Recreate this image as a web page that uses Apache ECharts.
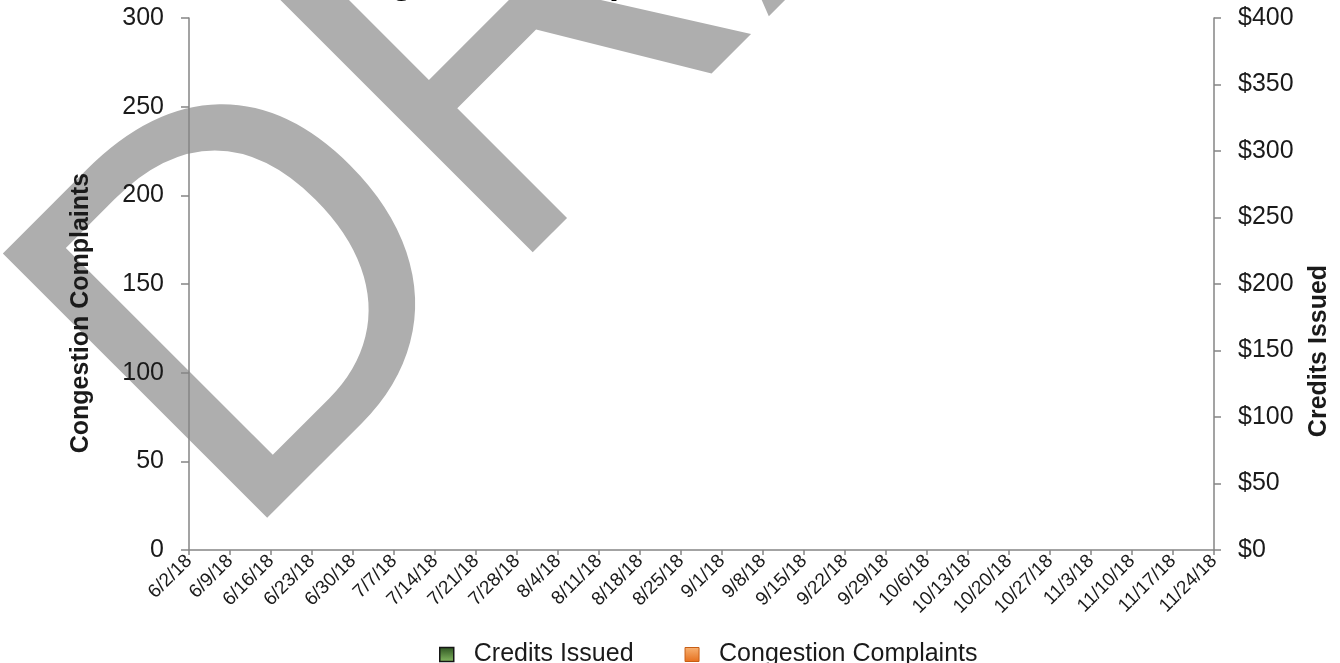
<!DOCTYPE html>
<html>
<head>
<meta charset="utf-8">
<title>Congestion Complaints &amp; Credits Issued</title>
<script src="https://cdn.jsdelivr.net/npm/echarts@6/dist/echarts.min.js"></script>
<style>
  html, body { margin: 0; padding: 0; background: #ffffff; }
  #chart { width: 1340px; height: 663px; }
</style>
</head>
<body>
<div id="chart"></div>
<script>
// Week-ending dates along the category axis
const weeks = ['6/2/18', '6/9/18', '6/16/18', '6/23/18', '6/30/18', '7/7/18', '7/14/18',
  '7/21/18', '7/28/18', '8/4/18', '8/11/18', '8/18/18', '8/25/18', '9/1/18', '9/8/18',
  '9/15/18', '9/22/18', '9/29/18', '10/6/18', '10/13/18', '10/20/18', '10/27/18',
  '11/3/18', '11/10/18', '11/17/18', '11/24/18'];

// No weekly figures have been reported yet
const creditsIssued = [null, null, null, null, null, null, null, null, null, null, null, null, null,
  null, null, null, null, null, null, null, null, null, null, null, null, null];
const congestionComplaints = [null, null, null, null, null, null, null, null, null, null, null, null, null,
  null, null, null, null, null, null, null, null, null, null, null, null, null];

const FONT = '"Liberation Sans", Arial, Helvetica, sans-serif';
const AXIS_GREY = '#858585';
const TEXT = '#1a1a1a';

const creditsColor = new echarts.graphic.LinearGradient(0, 0, 0, 1, [
  { offset: 0, color: '#2c5220' }, { offset: 1, color: '#86bb63' }
]);
const complaintsColor = new echarts.graphic.LinearGradient(0, 0, 0, 1, [
  { offset: 0, color: '#f8b273' }, { offset: 1, color: '#e66f1c' }
]);

const chart = echarts.init(document.getElementById('chart'), null, { renderer: 'canvas' });

chart.setOption({
  animation: false,
  backgroundColor: '#ffffff',
  textStyle: { fontFamily: FONT },
  title: {
    text: 'Congestion Complaints & Credits Issued',
    left: 'center',
    top: -40,
    textStyle: { fontFamily: FONT, fontSize: 36, fontWeight: 'bold', color: '#000000' }
  },
  legend: {
    left: 434,
    top: 637,
    icon: 'rect',
    itemWidth: 14,
    itemHeight: 14,
    itemGap: 51,
    textStyle: { fontFamily: FONT, fontSize: 25, color: TEXT, padding: [0, 0, 0, 15] },
    data: [
      { name: 'Credits Issued', itemStyle: { color: creditsColor, borderColor: '#161616', borderWidth: 1.5 } },
      { name: 'Congestion Complaints', itemStyle: { color: complaintsColor, borderColor: '#c75d14', borderWidth: 1 } }
    ]
  },
  grid: { left: 189, right: 126, top: 18, bottom: 113, containLabel: false },
  xAxis: {
    type: 'category',
    data: weeks,
    boundaryGap: false,
    axisLine: { show: true, lineStyle: { color: AXIS_GREY, width: 1.5 } },
    axisTick: { show: true, length: 5, inside: false, lineStyle: { color: AXIS_GREY, width: 1.5 } },
    axisLabel: { interval: 0, rotate: 45, margin: 8, fontSize: 19, color: TEXT, fontFamily: FONT },
    splitLine: { show: false }
  },
  yAxis: [
    {
      type: 'value',
      position: 'left',
      min: 0, max: 300, interval: 50,
      axisLine: { show: true, lineStyle: { color: AXIS_GREY, width: 1.5 } },
      axisTick: { show: true, length: 8, inside: false, lineStyle: { color: AXIS_GREY, width: 1.5 } },
      axisLabel: { margin: 25, fontSize: 25, color: TEXT, fontFamily: FONT },
      splitLine: { show: false }
    },
    {
      type: 'value',
      position: 'right',
      min: 0, max: 400, interval: 50,
      axisLine: { show: true, lineStyle: { color: AXIS_GREY, width: 1.5 } },
      axisTick: { show: true, length: 7, inside: false, lineStyle: { color: AXIS_GREY, width: 1.5 } },
      axisLabel: { margin: 24, fontSize: 25, color: TEXT, fontFamily: FONT, formatter: v => '$' + v },
      splitLine: { show: false }
    }
  ],
  series: [
    {
      name: 'Credits Issued',
      type: 'bar',
      yAxisIndex: 1,
      data: creditsIssued,
      itemStyle: { color: creditsColor, borderColor: '#161616', borderWidth: 1 }
    },
    {
      name: 'Congestion Complaints',
      type: 'bar',
      yAxisIndex: 0,
      data: congestionComplaints,
      itemStyle: { color: complaintsColor, borderColor: '#c75d14', borderWidth: 1 }
    }
  ],
  graphic: [
    {
      // draft stamp laid diagonally behind the plot, anchored at its baseline start
      type: 'text',
      x: 236, y: 547,
      rotation: Math.PI / 4,
      scaleX: 1,
      scaleY: 1.045,
      z: -10,
      silent: true,
      style: {
        text: 'DRAFT',
        x: 0, y: -142,
        font: 'normal 520px ' + FONT,
        fill: '#aeaeae',
        textAlign: 'left',
        textVerticalAlign: 'middle',
        verticalAlign: 'middle'
      }
    },
    {
      type: 'text',
      x: 81, y: 313,
      rotation: Math.PI / 2,
      silent: true,
      style: {
        text: 'Congestion Complaints',
        font: 'bold 25px ' + FONT,
        fill: TEXT,
        textAlign: 'center',
        textVerticalAlign: 'middle',
        verticalAlign: 'middle'
      }
    },
    {
      type: 'text',
      x: 1319, y: 351,
      rotation: Math.PI / 2,
      silent: true,
      style: {
        text: 'Credits Issued',
        font: 'bold 25px ' + FONT,
        fill: TEXT,
        textAlign: 'center',
        textVerticalAlign: 'middle',
        verticalAlign: 'middle'
      }
    }
  ]
});
</script>
</body>
</html>
